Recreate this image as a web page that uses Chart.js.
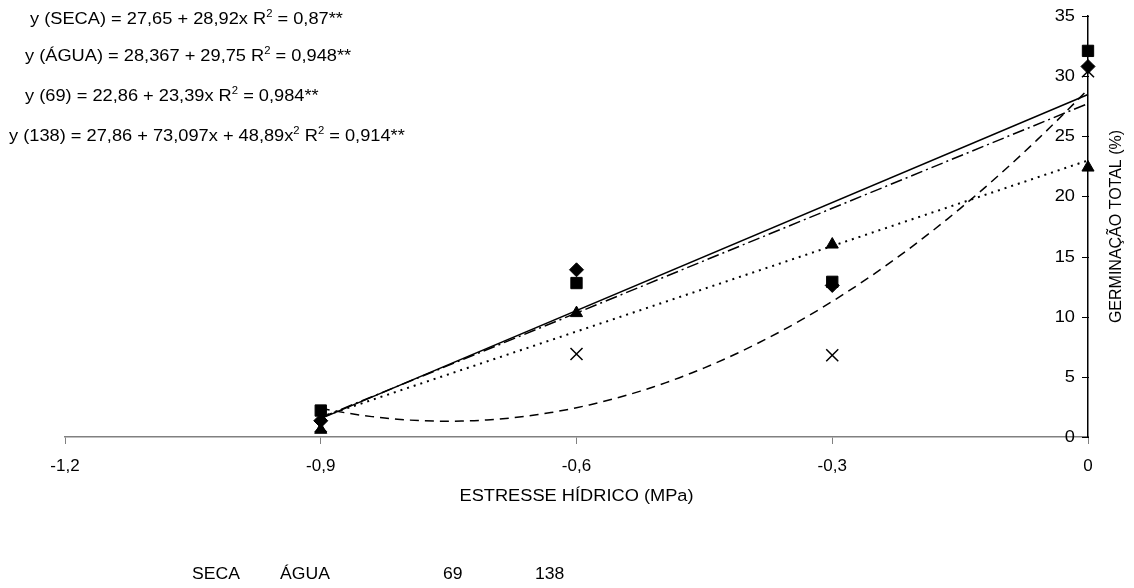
<!DOCTYPE html>
<html>
<head>
<meta charset="utf-8">
<script src="https://cdn.jsdelivr.net/npm/chart.js@4"></script>
<style>
  html, body { margin: 0; padding: 0; background: #fff; }
  #wrap { width: 1134px; height: 588px; position: relative; }
</style>
</head>
<body>
<div id="wrap"><canvas id="germChart"></canvas></div>
<script>
// water stress (MPa) and total germination (%) per treatment
const stressLevels = [-0.9, -0.6, -0.3, 0];
const seca = [1.35, 13.9, 12.6, 30.8];
const agua = [2.2, 12.8, 12.9, 32.1];
const s69 = [0.6, 10.3, 16.0, 22.4];
const s138 = [0.9, 6.9, 6.8, 30.4];
const seriesNames = ['SECA', 'ÁGUA', '69', '138'];
const xTicks = [-1.2, -0.9, -0.6, -0.3, 0];
const yTicks = [0, 5, 10, 15, 20, 25, 30, 35];

// regression labels: [text, superscript, text, superscript, ...]
const equations = [
  ['y (SECA) = 27,65 + 28,92x R', '2', ' = 0,87**'],
  ['y (ÁGUA) = 28,367 + 29,75 R', '2', ' = 0,948**'],
  ['y (69) = 22,86 + 23,39x R', '2', ' = 0,984**'],
  ['y (138) = 27,86 + 73,097x + 48,89x', '2', ' R', '2', ' = 0,914**']
];

const FONT = '"Liberation Sans", Arial, sans-serif';

// least squares polynomial fit, returns [a0, a1, a2...]
function polyFit(xs, ys, deg) {
  const n = deg + 1;
  const m = [];
  for (let r = 0; r < n; r++) {
    const row = [];
    for (let c = 0; c < n; c++) {
      row.push(xs.reduce((s, x) => s + Math.pow(x, r + c), 0));
    }
    row.push(xs.reduce((s, x, i) => s + Math.pow(x, r) * ys[i], 0));
    m.push(row);
  }
  for (let i = 0; i < n; i++) {
    let p = i;
    for (let k = i + 1; k < n; k++) if (Math.abs(m[k][i]) > Math.abs(m[p][i])) p = k;
    [m[i], m[p]] = [m[p], m[i]];
    for (let k = i + 1; k < n; k++) {
      const f = m[k][i] / m[i][i];
      for (let c = i; c <= n; c++) m[k][c] -= f * m[i][c];
    }
  }
  const coef = new Array(n).fill(0);
  for (let i = n - 1; i >= 0; i--) {
    let s = m[i][n];
    for (let c = i + 1; c < n; c++) s -= m[i][c] * coef[c];
    coef[i] = s / m[i][i];
  }
  return coef;
}

function trendPoints(ys, deg) {
  const coef = polyFit(stressLevels, ys, deg);
  const x0 = stressLevels[0], x1 = stressLevels[stressLevels.length - 1];
  const steps = deg === 1 ? 1 : 60;
  const pts = [];
  for (let i = 0; i <= steps; i++) {
    const x = x0 + (x1 - x0) * i / steps;
    pts.push({ x: x, y: coef.reduce((s, a, k) => s + a * Math.pow(x, k), 0) });
  }
  return pts;
}

const toXY = ys => stressLevels.map((x, i) => ({ x: x, y: ys[i] }));

function marker(label, ys, style, radius, width) {
  return {
    type: 'scatter', label: label, data: toXY(ys),
    pointStyle: style, pointRadius: radius, pointHoverRadius: radius,
    backgroundColor: '#000', borderColor: '#000', borderWidth: width,
    clip: false
  };
}

function trend(ys, deg, dash, width) {
  return {
    type: 'line', data: trendPoints(ys, deg),
    borderColor: '#000', borderWidth: width, borderDash: dash,
    pointRadius: 0, tension: 0, fill: false, clip: false
  };
}

// text drawn slightly wider than the font's own proportions
function stretchText(ctx, str, x, y, size, align, sx) {
  ctx.save();
  ctx.font = size + 'px ' + FONT;
  ctx.textBaseline = 'middle';
  ctx.textAlign = align;
  ctx.translate(x, y);
  ctx.scale(sx, 1);
  ctx.fillText(str, 0, 0);
  ctx.restore();
}

const annotations = {
  id: 'annotations',
  afterDraw(chart) {
    const { ctx, chartArea, scales } = chart;
    ctx.save();
    ctx.fillStyle = '#000';

    // y ticks and labels on the inner side of the axis
    ctx.strokeStyle = '#000';
    ctx.lineWidth = 1;
    yTicks.forEach(v => {
      const py = Math.round(scales.y.getPixelForValue(v)) + 0.5;
      ctx.beginPath();
      ctx.moveTo(chartArea.right - 6, py);
      ctx.lineTo(chartArea.right + 1, py);
      ctx.stroke();
      stretchText(ctx, String(v), chartArea.right - 13, py, 16.3, 'right', 1.12);
    });

    // regression equations
    const eqX = [30, 25, 25, 9];
    const eqY = [18, 55, 95, 135];
    const size = 16.3, sx = 1.12;
    equations.forEach((parts, i) => {
      ctx.save();
      ctx.translate(eqX[i], eqY[i] + size * 0.36);
      ctx.scale(sx, 1);
      ctx.textBaseline = 'alphabetic';
      ctx.textAlign = 'left';
      let cx = 0;
      parts.forEach((p, k) => {
        const sup = k % 2 === 1;
        ctx.font = (sup ? size * 0.62 : size) + 'px ' + FONT;
        ctx.fillText(p, cx, sup ? -size * 0.42 : 0);
        cx += ctx.measureText(p).width;
      });
      ctx.restore();
    });

    // axis titles
    const midX = (chartArea.left + chartArea.right) / 2;
    stretchText(ctx, 'ESTRESSE HÍDRICO (MPa)', midX, 497, 16.3, 'center', 1.12);
    ctx.save();
    ctx.translate(1117, (chartArea.top + chartArea.bottom) / 2);
    ctx.rotate(-Math.PI / 2);
    ctx.font = '16px ' + FONT;
    ctx.textAlign = 'center';
    ctx.textBaseline = 'middle';
    ctx.fillText('GERMINAÇÃO TOTAL (%)', 0, 0);
    ctx.restore();

    // series names along the bottom
    const legX = [192, 280, 443, 535];
    seriesNames.forEach((name, i) => stretchText(ctx, name, legX[i], 575, 16, 'left', 1.1));
    ctx.restore();
  }
};

const fmt = v => Math.abs(v) < 1e-9 ? '0' : v.toFixed(1).replace('.', ',');

new Chart(document.getElementById('germChart'), {
  data: {
    datasets: [
      marker('SECA', seca, 'rectRot', 7, 1),
      marker('ÁGUA', agua, 'rect', 8, 1),
      marker('69', s69, 'triangle', 7, 1),
      marker('138', s138, 'crossRot', 8.5, 1.5),
      trend(agua, 1, [], 1.5),
      trend(seca, 1, [12, 4, 2, 4], 1.5),
      trend(s69, 1, [2, 5], 2),
      trend(s138, 2, [9, 6], 1.5)
    ]
  },
  options: {
    responsive: true,
    maintainAspectRatio: false,
    animation: false,
    layout: { padding: { left: 65, right: 0, top: 16, bottom: 81 } },
    plugins: {
      legend: { display: false },
      tooltip: { enabled: false }
    },
    scales: {
      x: {
        type: 'linear',
        position: 'bottom',
        min: -1.2,
        max: 0,
        afterBuildTicks: s => { s.ticks = xTicks.map(v => ({ value: v })); },
        afterFit: s => { s.height = 70; },
        ticks: {
          callback: v => fmt(v),
          color: '#000',
          font: { size: 17, family: FONT },
          padding: 12,
          maxRotation: 0
        },
        grid: { drawOnChartArea: false, color: '#808080', tickLength: 7 },
        border: { color: '#808080', width: 1.5 }
      },
      y: {
        type: 'linear',
        position: 'right',
        min: 0,
        max: 35,
        afterBuildTicks: s => { s.ticks = yTicks.map(v => ({ value: v })); },
        afterFit: s => { s.width = 46; },
        ticks: { display: false },
        grid: { drawOnChartArea: false, drawTicks: false },
        border: { color: '#000', width: 1.5 }
      }
    }
  },
  plugins: [annotations]
});
</script>
</body>
</html>
